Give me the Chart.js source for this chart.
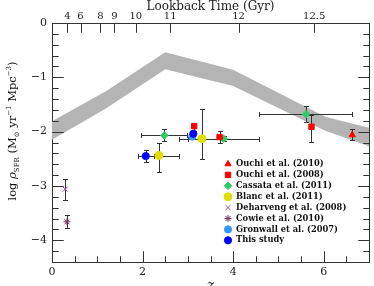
<!DOCTYPE html>
<html>
<head>
<meta charset="utf-8">
<script src="https://cdn.jsdelivr.net/npm/chart.js@4.4.1/dist/chart.umd.min.js"></script>
<style>
  html, body { margin: 0; padding: 0; background: #fff; }
  #caja { width: 374px; height: 286px; }
</style>
</head>
<body>
<div id="caja"><canvas id="grafico" width="374" height="286"></canvas></div>
<script>
// eje superior: tiempo lookback (Gyr) ubicado en z
const lookZ = [0.34, 0.63, 1.07, 1.38, 1.85, 2.61, 4.12, 5.79];
const lookLabels = ["4", "6", "8", "9", "10", "11", "12", "12.5"];

// marcas menores de los ejes
const zMarcas = [0, 0.5, 1, 1.5, 2, 2.5, 3, 3.5, 4, 4.5, 5, 5.5, 6, 6.5, 7];
const rhoMarcas = [0, -0.2, -0.4, -0.6, -0.8, -1, -1.2, -1.4, -1.6, -1.8, -2, -2.2, -2.4, -2.6, -2.8, -3, -3.2, -3.4, -3.6, -3.8, -4, -4.2, -4.4];

// banda gris
const bandaZ = [0, 1.2, 2.5, 4.0, 5.6, 6.05, 7];
const bandaArriba = [-1.81, -1.25, -0.54, -0.86, -1.54, -1.73, -1.93];
const bandaAbajo = [-2.15, -1.57, -0.85, -1.16, -1.81, -1.99, -2.27];

// Ouchi et al. (2010)
const ouchi10Z = [6.63];
const ouchi10Rho = [-2.06];
const ouchi10RhoErr = [[-2.16, -1.96]];

// Ouchi et al. (2008)
const ouchi08Z = [3.14, 3.70, 5.73];
const ouchi08Rho = [-1.90, -2.10, -1.91];
const ouchi08RhoErr = [[-1.98, -1.84], [-2.21, -1.99], [-2.19, -1.69]];

// Cassata et al. (2011)
const cassataZ = [2.48, 3.79, 5.61];
const cassataRho = [-2.07, -2.13, -1.68];
const cassataZErr = [[1.96, 2.98], [3.0, 4.57], [4.57, 6.63]];
const cassataRhoErr = [[-2.17, -1.96], [-2.18, -2.08], [-1.82, -1.52]];

// Blanc et al. (2011)
const blancZ = [2.36, 3.31];
const blancRho = [-2.44, -2.13];
const blancZErr = [[1.9, 2.81], [2.81, 3.8]];
const blancRhoErr = [[-2.75, -2.21], [-2.51, -1.58]];

// Deharveng et al. (2008)
const deharvengZ = [0.29];
const deharvengRho = [-3.06];
const deharvengRhoErr = [[-3.25, -2.88]];

// Cowie et al. (2010)
const cowieZ = [0.33];
const cowieRho = [-3.66];
const cowieRhoErr = [[-3.77, -3.54]];

// Gronwall et al. (2007)
const gronwallZ = [3.1];
const gronwallRho = [-2.09];

// This study
const esteZ = [2.07, 3.12];
const esteRho = [-2.45, -2.04];
const esteZErr = [[1.9, 2.25], null];
const esteRhoErr = [[-2.56, -2.33], [-2.09, -1.99]];

const FUENTE = '"DejaVu Serif", serif';
const SIN_COLOR = "rgba(0,0,0,0)";

function puntos(zs, rhos) {
  return zs.map((z, i) => ({ x: z, y: rhos[i] }));
}

function serie(label, zs, rhos, estilo, color, radio, zErr, rhoErr, orden) {
  return {
    label: label,
    data: puntos(zs, rhos),
    pointStyle: estilo,
    pointRadius: radio,
    backgroundColor: color,
    borderColor: color,
    borderWidth: 1,
    showLine: false,
    zErr: zErr || null,
    rhoErr: rhoErr || null,
    enLeyenda: true,
    order: orden || 0,
  };
}

const datasets = [
  serie("Ouchi et al. (2010)", ouchi10Z, ouchi10Rho, "triangle", "#ff0000", 3.6, null, ouchi10RhoErr),
  serie("Ouchi et al. (2008)", ouchi08Z, ouchi08Rho, "rect", "#ff0000", 3.8, null, ouchi08RhoErr),
  serie("Cassata et al. (2011)", cassataZ, cassataRho, "rectRot", "#2ecc66", 3.8, cassataZErr, cassataRhoErr),
  serie("Blanc et al. (2011)", blancZ, blancRho, "circle", "#dede00", 4, blancZErr, blancRhoErr),
  serie("Deharveng et al. (2008)", deharvengZ, deharvengRho, "crossRot", "#9a4aa8", 3.5, null, deharvengRhoErr),
  serie("Cowie et al. (2010)", cowieZ, cowieRho, "star", "#7a2a5a", 3.5, null, cowieRhoErr),
  serie("Gronwall et al. (2007)", gronwallZ, gronwallRho, "circle", "#3399ff", 3.6, null, null),
  serie("This study", esteZ, esteRho, "circle", "#0000ff", 3.6, esteZErr, esteRhoErr, -1),
];

const bandaIdx = datasets.length;
datasets.push({
  type: "line",
  data: puntos(bandaZ, bandaArriba),
  borderColor: SIN_COLOR,
  backgroundColor: "#b4b4b4",
  pointRadius: 0,
  fill: "+1",
  tension: 0,
  order: 10,
});
datasets.push({
  type: "line",
  data: puntos(bandaZ, bandaAbajo),
  borderColor: SIN_COLOR,
  pointRadius: 0,
  fill: false,
  tension: 0,
  order: 10,
});

// marcas hacia adentro en los cuatro lados
function dibujarMarcas(chart) {
  const ctx = chart.ctx;
  const a = chart.chartArea;
  const x = chart.scales.x, y = chart.scales.y;
  const izq = Math.round(a.left) + 0.5, der = Math.round(a.right) + 0.5;
  const arr = Math.round(a.top) + 0.5, abj = Math.round(a.bottom) + 0.5;
  ctx.save();
  ctx.strokeStyle = "#333";
  ctx.lineWidth = 1;
  ctx.beginPath();
  zMarcas.forEach((v) => {
    const px = Math.round(x.getPixelForValue(v)) + 0.5;
    const largo = v % 2 === 0 ? 11 : 6;
    ctx.moveTo(px, abj); ctx.lineTo(px, abj - largo);
  });
  lookZ.forEach((v) => {
    const px = Math.round(x.getPixelForValue(v)) + 0.5;
    ctx.moveTo(px, arr); ctx.lineTo(px, arr + 9);
  });
  rhoMarcas.forEach((v) => {
    const py = Math.round(y.getPixelForValue(v)) + 0.5;
    const largo = Number.isInteger(v) ? 11 : 6;
    ctx.moveTo(izq, py); ctx.lineTo(izq + largo, py);
    ctx.moveTo(der, py); ctx.lineTo(der - largo, py);
  });
  ctx.stroke();
  ctx.restore();
}

// barras de error y marcas, encima de la banda
const barrasError = {
  id: "barrasError",
  afterDatasetDraw(chart, args) {
    if (args.index !== bandaIdx) return;
    dibujarMarcas(chart);
    const { ctx } = chart;
    const x = chart.scales.x, y = chart.scales.y;
    const cap = 2.5;
    ctx.save();
    ctx.strokeStyle = "#333";
    ctx.lineWidth = 1;
    ctx.beginPath();
    chart.data.datasets.forEach((ds) => {
      if (!ds.enLeyenda) return;
      ds.data.forEach((p, i) => {
        const px = Math.round(x.getPixelForValue(p.x)) + 0.5;
        const py = Math.round(y.getPixelForValue(p.y)) + 0.5;
        const ez = ds.zErr && ds.zErr[i];
        const er = ds.rhoErr && ds.rhoErr[i];
        if (ez) {
          const x1 = Math.round(x.getPixelForValue(ez[0])) + 0.5;
          const x2 = Math.round(x.getPixelForValue(ez[1])) + 0.5;
          ctx.moveTo(x1, py); ctx.lineTo(x2, py);
          ctx.moveTo(x1, py - cap); ctx.lineTo(x1, py + cap);
          ctx.moveTo(x2, py - cap); ctx.lineTo(x2, py + cap);
        }
        if (er) {
          const y1 = Math.round(y.getPixelForValue(er[0])) + 0.5;
          const y2 = Math.round(y.getPixelForValue(er[1])) + 0.5;
          ctx.moveTo(px, y1); ctx.lineTo(px, y2);
          ctx.moveTo(px - cap, y1); ctx.lineTo(px + cap, y1);
          ctx.moveTo(px - cap, y2); ctx.lineTo(px + cap, y2);
        }
      });
    });
    ctx.stroke();
    ctx.restore();
  },
  afterDraw(chart) {
    dibujarMarcas(chart);
  },
};

// leyenda dentro del grafico
const leyenda = {
  id: "leyenda",
  afterDraw(chart) {
    const ctx = chart.ctx;
    let k = 0;
    ctx.save();
    ctx.textBaseline = "middle";
    chart.data.datasets.forEach((ds) => {
      if (!ds.enLeyenda) return;
      const yy = 164 + k * 10.9;
      ctx.fillStyle = ds.backgroundColor;
      ctx.strokeStyle = ds.borderColor;
      ctx.lineWidth = 1;
      Chart.helpers.drawPoint(ctx, { pointStyle: ds.pointStyle, radius: ds.pointRadius, rotation: 0, borderWidth: 1 }, 228, yy);
      ctx.fillStyle = "#111";
      ctx.font = "bold 8.3px " + FUENTE;
      ctx.fillText(ds.label, 236, yy);
      k++;
    });
    ctx.restore();
  },
};

// titulo del eje y con sub y superindices
const tituloY = {
  id: "tituloY",
  afterDraw(chart) {
    const ctx = chart.ctx;
    const normal = "11.5px " + FUENTE;
    const chica = "7px " + FUENTE;
    const partes = [
      { t: "log ", f: normal, dy: 0 },
      { t: "\u03c1", f: "italic " + normal, dy: 0 },
      { t: "SFR", f: chica, dy: 3 },
      { t: " (M", f: normal, dy: 0 },
      { t: "\u2299", f: chica, dy: 3 },
      { t: " yr", f: normal, dy: 0 },
      { t: "\u22121", f: chica, dy: -5 },
      { t: " Mpc", f: normal, dy: 0 },
      { t: "\u22123", f: chica, dy: -5 },
      { t: ")", f: normal, dy: 0 },
    ];
    ctx.save();
    let total = 0;
    partes.forEach((p) => { ctx.font = p.f; p.w = ctx.measureText(p.t).width; total += p.w; });
    ctx.translate(16, 131);
    ctx.rotate(-Math.PI / 2);
    ctx.fillStyle = "#111";
    ctx.textBaseline = "alphabetic";
    let xx = -total / 2;
    partes.forEach((p) => { ctx.font = p.f; ctx.fillText(p.t, xx, p.dy); xx += p.w; });
    ctx.restore();
  },
};

Chart.defaults.font.family = FUENTE;
Chart.defaults.color = "#222";

// las marcas nativas quedan transparentes (las dibuja dibujarMarcas hacia adentro)
const rejilla = { display: false, color: SIN_COLOR, tickLength: 8 };

const grafico = new Chart(document.getElementById("grafico"), {
  type: "scatter",
  data: { datasets: datasets },
  options: {
    responsive: false,
    animation: false,
    devicePixelRatio: 1,
    events: [],
    layout: { padding: 0 },
    plugins: { legend: { display: false }, tooltip: { enabled: false } },
    scales: {
      x: {
        type: "linear", position: "bottom", min: 0, max: 7,
        grid: rejilla,
        border: { display: true, color: "#333", width: 1 },
        ticks: {
          stepSize: 2, padding: -4, maxRotation: 0, autoSkip: false,
          font: { size: 11 },
          callback: (v) => (v % 2 === 0 ? String(v) : ""),
        },
        title: { display: true, text: "z", font: { size: 14, style: "italic" }, padding: { top: 0, bottom: -9 } },
        afterFit: (s) => { s.height = 24; },
      },
      x2: {
        type: "linear", position: "top", min: 0, max: 7,
        grid: rejilla,
        border: { display: true, color: "#333", width: 1 },
        afterBuildTicks: (s) => { s.ticks = lookZ.map((v) => ({ value: v })); },
        ticks: {
          padding: -7, maxRotation: 0, autoSkip: false,
          font: { size: 10 },
          callback: (v, i) => lookLabels[i],
        },
        title: { display: true, text: "Lookback Time (Gyr)", font: { size: 12 }, padding: { top: 0, bottom: 0 } },
        afterFit: (s) => { s.height = 23; },
      },
      y: {
        type: "linear", position: "left", min: -4.4, max: 0,
        grid: rejilla,
        border: { display: true, color: "#333", width: 1 },
        ticks: {
          stepSize: 1, padding: -3, autoSkip: false,
          font: { size: 11 },
          callback: (v) => {
            if (Math.abs(v - Math.round(v)) > 1e-6) return "";
            const n = Math.round(v);
            return n === 0 ? "0" : "\u2212" + Math.abs(n);
          },
        },
        afterFit: (s) => { s.width = 52; },
      },
      y2: {
        type: "linear", position: "right", min: -4.4, max: 0,
        grid: rejilla,
        border: { display: true, color: "#333", width: 1 },
        ticks: { display: false },
        afterFit: (s) => { s.width = 4; },
      },
    },
  },
  plugins: [barrasError, leyenda, tituloY],
});
</script>
</body>
</html>
